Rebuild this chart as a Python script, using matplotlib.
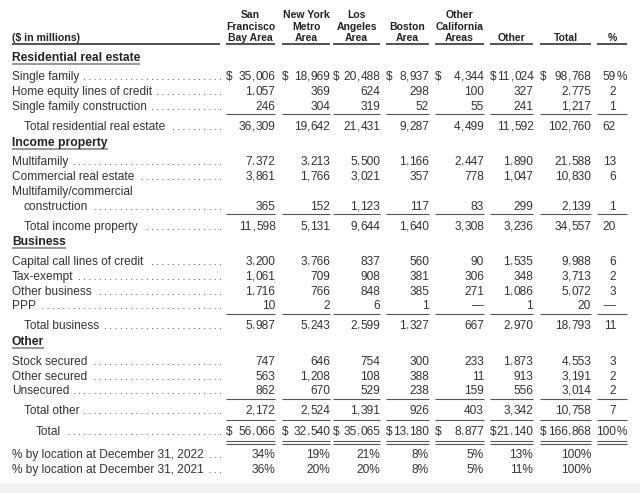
"""Loan portfolio by geographic location table, redrawn as text on a blank axes."""
import matplotlib; matplotlib.use("Agg")
import matplotlib.pyplot as plt
from matplotlib.patches import Rectangle
from matplotlib.font_manager import FontProperties, findfont

# ---- data ($ in millions) ----
col_headers = [["San", "Francisco", "Bay Area"], ["New York", "Metro", "Area"],
               ["Los", "Angeles", "Area"], ["Boston", "Area"],
               ["Other", "California", "Areas"], ["Other"], ["Total"], ["%"]]
single_family = [35006, 18969, 20488, 8937, 4344, 11024, 98768, 59]
home_equity = [1057, 369, 624, 298, 100, 327, 2775, 2]
sf_construction = [246, 304, 319, 52, 55, 241, 1217, 1]
total_residential = [36309, 19642, 21431, 9287, 4499, 11592, 102760, 62]
multifamily = [7372, 3213, 5500, 1166, 2447, 1890, 21588, 13]
commercial = [3861, 1766, 3021, 357, 778, 1047, 10830, 6]
mf_construction = [365, 152, 1123, 117, 83, 299, 2139, 1]
total_income = [11598, 5131, 9644, 1640, 3308, 3236, 34557, 20]
capital_call = [3200, 3766, 837, 560, 90, 1535, 9988, 6]
tax_exempt = [1061, 709, 908, 381, 306, 348, 3713, 2]
other_business = [1716, 766, 848, 385, 271, 1086, 5072, 3]
ppp = [10, 2, 6, 1, None, 1, 20, None]
total_business = [5987, 5243, 2599, 1327, 667, 2970, 18793, 11]
stock_secured = [747, 646, 754, 300, 233, 1873, 4553, 3]
other_secured = [563, 1208, 108, 388, 11, 913, 3191, 2]
unsecured = [862, 670, 529, 238, 159, 556, 3014, 2]
total_other = [2172, 2524, 1391, 926, 403, 3342, 10758, 7]
grand_total = [56066, 32540, 35065, 13180, 8877, 21140, 166868, 100]
pct_2022 = [34, 19, 21, 8, 5, 13, 100]
pct_2021 = [36, 20, 20, 8, 5, 11, 100]

# rows: label, indent, y, values, has dollar sign, dotted leader
rows = [
    ("Single family", 12, 76, single_family, True, True),
    ("Home equity lines of credit", 12, 91, home_equity, False, True),
    ("Single family construction", 12, 106, sf_construction, False, True),
    ("Total residential real estate", 24, 126, total_residential, False, True),
    ("Multifamily", 12, 161, multifamily, False, True),
    ("Commercial real estate", 12, 176, commercial, False, True),
    ("Multifamily/commercial", 12, 191, None, False, False),
    ("construction", 24, 206, mf_construction, False, True),
    ("Total income property", 24, 226, total_income, False, True),
    ("Capital call lines of credit", 12, 261, capital_call, False, True),
    ("Tax-exempt", 12, 276, tax_exempt, False, True),
    ("Other business", 12, 291, other_business, False, True),
    ("PPP", 12, 305, ppp, False, True),
    ("Total business", 24, 325, total_business, False, True),
    ("Stock secured", 12, 361, stock_secured, False, True),
    ("Other secured", 12, 376, other_secured, False, True),
    ("Unsecured", 12, 390, unsecured, False, True),
    ("Total other", 24, 410, total_other, False, True),
    ("Total", 36, 431, grand_total, True, True),
]
pct_rows = [("% by location at December 31, 2022", 454, pct_2022),
            ("% by location at December 31, 2021", 469, pct_2021)]
sections = [("Residential real estate", 57), ("Income property", 142),
            ("Business", 241), ("Other", 341)]

FONT = "Liberation Sans"
TXT = "#333333"
FS = 8.6
col_left = [226, 282, 333, 386, 435, 490, 540, 597]
col_right = [275, 330, 380, 429, 484, 533, 591, 627]
pct_right = 616
DOT_END = 220
BASE = 4  # offset from row centre to text baseline
COMMA_NUDGE = 0.3

fig = plt.figure(figsize=(6.4, 4.93), dpi=100)
ax = fig.add_axes([0, 0, 1, 1])
ax.set_xlim(0, 640); ax.set_ylim(493, 0); ax.axis("off")
ax.add_patch(Rectangle((0, 483), 640, 10, color="#f2f2f2", lw=0))
renderer = fig.canvas.get_renderer()
fp = FontProperties(family=FONT, size=FS)

def ink_w(s):
    return renderer.get_text_width_height_descent(s, fp, ismath=False)[0]

try:
    from matplotlib.ft2font import FT2Font
    _ft = FT2Font(findfont(fp), hinting_factor=1)
    _ft.set_size(FS, 100)
    def adv(s):
        return sum(_ft.load_char(ord(c)).linearHoriAdvance / 65536 for c in s)
    adv("0")
except Exception:
    def adv(s):
        return ink_w(s + "0") - ink_w("0")

def fmt(v):
    return "\u2014" if v is None else f"{v:,}"

def put(x, y, s, ha="right", **kw):
    return ax.text(x, y + BASE, s, ha=ha, va="baseline", fontsize=FS,
                   family=FONT, color=TXT, **kw)

def put_num(xr, y, s):
    # commas drawn as their own texts so every digit group shares one baseline
    tokens = []
    for i, p in enumerate(s.split(",")):
        if i:
            tokens.append(",")
        tokens.append(p)
    x = xr - ink_w(s)
    for tok in tokens:
        put(x + (COMMA_NUDGE if tok == "," else 0), y, tok, ha="left")
        x += adv(tok)

def seg_line(y, color="#555555", lw=0.8):
    for l, r in zip(col_left, col_right):
        ax.plot([l, r], [y, y], color=color, lw=lw, solid_capstyle="butt")

# header
for hdr, l, r in zip(col_headers, col_left, col_right):
    for k, line in enumerate(hdr):
        y = [14, 26, 37][3 - len(hdr) + k]
        ax.text((l + r) / 2, y + 4, line, ha="center", va="baseline", fontsize=7.5,
                fontweight="bold", family=FONT, color="#222222")
ax.text(12, 37 + 4, "($ in millions)", ha="left", va="baseline", fontsize=7.6,
        fontweight="bold", family=FONT, color="#222222")
ax.plot([12, 220], [44, 44], color="#444444", lw=1.3, solid_capstyle="butt")
seg_line(44, "#444444", 1.3)

# section titles with underline under text only
for name, y in sections:
    t = ax.text(12, y + 4, name, ha="left", va="baseline", fontsize=8.7,
                fontweight="bold", family=FONT, color="#222222")
    x1 = t.get_window_extent(renderer).x1
    ax.plot([12, x1], [y + 7, y + 7], color="#999999", lw=1.4, solid_capstyle="butt")

def leader(t, y):
    x1 = t.get_window_extent(renderer).x1
    ax.plot([DOT_END, x1 + 4], [y + BASE - 0.6, y + BASE - 0.6], color="#555555",
            lw=0.8, dashes=(0.1, 4.6), dash_capstyle="round")

for label, indent, y, vals, dollar, dots in rows:
    t = put(indent, y, label, ha="left")
    if dots:
        leader(t, y)
    if vals is None:
        continue
    for i, v in enumerate(vals[:7]):
        put_num(col_right[i], y, fmt(v))
        if dollar:
            put(col_left[i], y, "$", ha="left")
    put_num(pct_right, y, fmt(vals[7]))
    if dollar:
        put(pct_right + 0.5, y, "%", ha="left")

for label, y, vals in pct_rows:
    t = put(12, y, label, ha="left")
    leader(t, y)
    for i, v in enumerate(vals):
        put(col_right[i], y, f"{v}%")

# rule lines
for y in [114, 214, 314, 399, 420]:
    seg_line(y)
seg_line(440.5); seg_line(443.5)

fig.savefig("out.png", dpi=100)
